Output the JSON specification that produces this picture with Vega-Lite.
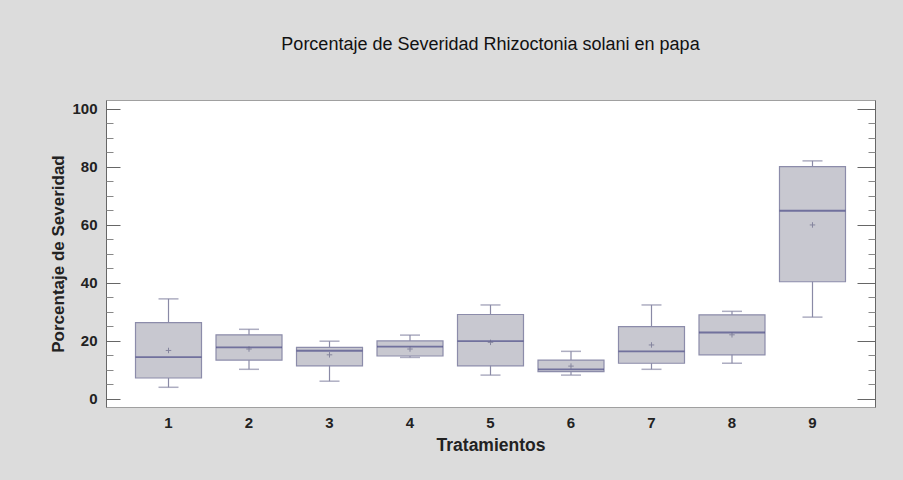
{
  "$schema": "https://vega.github.io/schema/vega-lite/v6.json",
  "width": 769,
  "height": 307,
  "autosize": {"type": "none"},
  "padding": {"left": 106, "top": 100, "right": 28, "bottom": 73},
  "background": "#dcdcdc",
  "title": {
    "text": "Porcentaje de Severidad Rhizoctonia solani en papa",
    "font": "Liberation Sans",
    "fontSize": 18,
    "fontWeight": "normal",
    "color": "#111111",
    "anchor": "middle",
    "offset": 46
  },
  "config": {
    "view": {"fill": "white", "stroke": "#a0a0a0"},
    "font": "Liberation Sans"
  },
  "data": {
    "values": [
      {"t": "1", "lo": 4.0, "q1": 7.2, "med": 14.4, "q3": 26.3, "hi": 34.5, "mean": 16.7},
      {"t": "2", "lo": 10.2, "q1": 13.4, "med": 17.8, "q3": 22.1, "hi": 24.0, "mean": 17.2},
      {"t": "3", "lo": 6.1, "q1": 11.4, "med": 16.6, "q3": 17.8, "hi": 19.9, "mean": 15.2},
      {"t": "4", "lo": 14.3, "q1": 14.8, "med": 18.0, "q3": 20.0, "hi": 22.0, "mean": 17.2},
      {"t": "5", "lo": 8.2, "q1": 11.4, "med": 19.9, "q3": 29.1, "hi": 32.4, "mean": 19.5},
      {"t": "6", "lo": 8.2, "q1": 9.4, "med": 10.2, "q3": 13.4, "hi": 16.4, "mean": 11.3},
      {"t": "7", "lo": 10.2, "q1": 12.3, "med": 16.4, "q3": 24.9, "hi": 32.4, "mean": 18.6},
      {"t": "8", "lo": 12.3, "q1": 15.2, "med": 22.9, "q3": 29.0, "hi": 30.2, "mean": 22.1},
      {"t": "9", "lo": 28.2, "q1": 40.4, "med": 64.9, "q3": 80.1, "hi": 82.1, "mean": 60.0}
    ]
  },
  "encoding": {
    "x": {
      "field": "t",
      "type": "nominal",
      "scale": {"paddingInner": 0, "paddingOuter": 0.2765},
      "axis": {
        "orient": "bottom",
        "labelAngle": 0,
        "ticks": false,
        "domain": false,
        "labelPadding": 8,
        "labelFont": "Liberation Sans",
        "labelFontSize": 15,
        "labelFontWeight": "bold",
        "labelColor": "#222222",
        "title": "Tratamientos",
        "titleFont": "Liberation Sans",
        "titleFontSize": 17.5,
        "titleFontWeight": "bold",
        "titleColor": "#222222",
        "titlePadding": 6
      }
    }
  },
  "resolve": {"axis": {"y": "independent"}},
  "layer": [
    {
      "mark": {"type": "rule", "color": "#8a8aa6", "strokeWidth": 1.2},
      "encoding": {
        "y": {
          "field": "lo",
          "type": "quantitative",
          "scale": {"domain": [-2.8, 103.1], "nice": false, "zero": false},
          "axis": {
            "orient": "left",
            "values": [0, 20, 40, 60, 80, 100],
            "tickSize": -14,
            "tickColor": "#666666",
            "domainColor": "#666666",
            "labelPadding": 23,
            "labelFont": "Liberation Sans",
            "labelFontSize": 15,
            "labelFontWeight": "bold",
            "labelColor": "#222222",
            "grid": false,
            "title": "Porcentaje de Severidad",
            "titleFont": "Liberation Sans",
            "titleFontSize": 17,
            "titleFontWeight": "bold",
            "titleColor": "#222222",
            "titlePadding": 4
          }
        },
        "y2": {"field": "hi"}
      }
    },
    {
      "mark": {"type": "tick", "color": "#8a8aa6", "size": 20, "thickness": 1.5},
      "encoding": {
        "y": {
          "field": "lo",
          "type": "quantitative",
          "axis": {
            "orient": "right",
            "values": [0, 20, 40, 60, 80, 100],
            "tickSize": -18,
            "tickColor": "#666666",
            "domainColor": "#666666",
            "labels": false,
            "grid": false,
            "title": null
          }
        }
      }
    },
    {
      "mark": {"type": "tick", "color": "#8a8aa6", "size": 20, "thickness": 1.5},
      "encoding": {
        "y": {
          "field": "hi",
          "type": "quantitative",
          "axis": {
            "orient": "left",
            "values": [5, 10, 15, 25, 30, 35, 45, 50, 55, 65, 70, 75, 85, 90, 95],
            "tickSize": -7,
            "tickColor": "#888888",
            "domain": false,
            "labels": false,
            "grid": false,
            "title": null
          }
        }
      }
    },
    {
      "mark": {"type": "bar", "size": 66, "fill": "#c8c8d0", "stroke": "#8c8caa", "strokeWidth": 1.2},
      "encoding": {
        "y": {
          "field": "q1",
          "type": "quantitative",
          "axis": {
            "orient": "right",
            "values": [5, 10, 15, 25, 30, 35, 45, 50, 55, 65, 70, 75, 85, 90, 95],
            "tickSize": -7,
            "tickColor": "#888888",
            "domain": false,
            "labels": false,
            "grid": false,
            "title": null
          }
        },
        "y2": {"field": "q3"}
      }
    },
    {
      "mark": {"type": "tick", "color": "#4c4c88", "size": 66, "thickness": 1.8},
      "encoding": {
        "y": {"field": "med", "type": "quantitative", "axis": null}
      }
    },
    {
      "mark": {"type": "point", "shape": "M-1,0H1M0,-1V1", "size": 30, "stroke": "#6a6a8a", "strokeWidth": 1, "filled": false},
      "encoding": {
        "y": {"field": "mean", "type": "quantitative", "axis": null}
      }
    }
  ]
}
